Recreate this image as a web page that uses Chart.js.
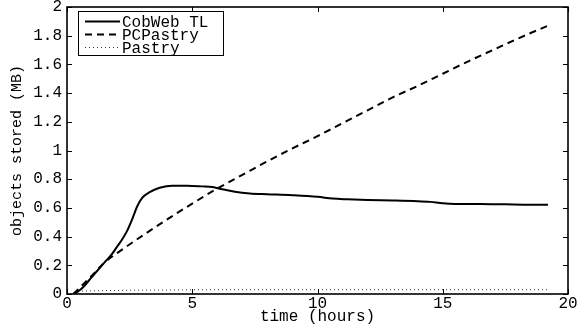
<!DOCTYPE html>
<html><head><meta charset="utf-8">
<script src="https://cdn.jsdelivr.net/npm/chart.js@4/dist/chart.umd.min.js"></script>
<style>html,body{margin:0;padding:0;background:#fff;overflow:hidden}#wrap{width:583px;height:328px}</style>
</head><body><div id="wrap"><canvas id="c" width="583" height="328"></canvas></div>
<script>
const seriesNames = ['CobWeb TL', 'PCPastry', 'Pastry'];
const cobwebHours = [0.3,0.6,1.0,1.5,1.8,2.0,2.2,2.4,2.6,2.8,3.0,3.3,3.7,4.2,4.8,5.4,5.8,6.2,6.7,7.3,8.0,9.0,10.0,10.6,11.2,12.0,13.0,14.0,14.5,15.0,15.5,16.5,17.5,18.5,19.2];
const cobwebMB    = [0,0.04,0.12,0.22,0.28,0.33,0.38,0.44,0.52,0.61,0.67,0.71,0.74,0.755,0.755,0.75,0.745,0.73,0.712,0.70,0.695,0.688,0.677,0.665,0.66,0.655,0.652,0.647,0.642,0.632,0.628,0.628,0.625,0.622,0.622];
const pcpastryHours = [0.25,0.6,1.0,1.5,2,3,4,5,6,7,8,9,10,11,12,13,14,15,16,17,18,19.2];
const pcpastryMB    = [0,0.06,0.13,0.22,0.285,0.405,0.52,0.63,0.735,0.83,0.925,1.015,1.10,1.19,1.28,1.37,1.45,1.535,1.62,1.70,1.78,1.87];
const pastryHours = [0.6,1,2,3,4,6,8,10,12,14,16,18,19.2];
const pastryMB    = [0.02,0.022,0.025,0.027,0.028,0.03,0.03,0.03,0.03,0.03,0.03,0.03,0.03];
const xTicks = [0,5,10,15,20];
const xTickLabels = ['0','5','10','15','20'];
const yTicks = [0,0.2,0.4,0.6,0.8,1,1.2,1.4,1.6,1.8,2];
const yTickLabels = ['0','0.2','0.4','0.6','0.8','1','1.2','1.4','1.6','1.8','2'];
const xTitle = 'time (hours)';
const yTitle = 'objects stored (MB)';

const FONT = 'Liberation Mono, Courier New, monospace';
const pts = (xs, ys) => xs.map((x, i) => ({x: x, y: ys[i]}));

const framePlugin = {
  id: 'frame',
  afterDraw(chart) {
    const ctx = chart.ctx, a = chart.chartArea;
    const xs = chart.scales.x, ys = chart.scales.y;
    ctx.save();
    ctx.strokeStyle = '#000';
    ctx.lineWidth = 1;
    ctx.beginPath();
    xTicks.forEach(v => {
      const p = Math.round(xs.getPixelForValue(v)) + 0.5;
      ctx.moveTo(p, a.bottom); ctx.lineTo(p, a.bottom - 5);
      ctx.moveTo(p, a.top); ctx.lineTo(p, a.top + 5);
    });
    yTicks.forEach(v => {
      const p = Math.round(ys.getPixelForValue(v)) + 0.5;
      ctx.moveTo(a.left, p); ctx.lineTo(a.left + 5, p);
      ctx.moveTo(a.right, p); ctx.lineTo(a.right - 5, p);
    });
    ctx.stroke();
    ctx.lineWidth = 1.6;
    ctx.strokeRect(a.left, a.top, a.right - a.left, a.bottom - a.top);
    // legend
    const lx = 78.5, ly = 11.5, lw = 145, lh = 44;
    ctx.fillStyle = '#fff';
    ctx.fillRect(lx, ly, lw, lh);
    ctx.lineWidth = 1;
    ctx.strokeRect(lx, ly, lw, lh);
    const rows = [21.5, 34.5, 47.5];
    chart.data.datasets.forEach((ds, i) => {
      ctx.save();
      ctx.strokeStyle = ds.borderColor;
      ctx.lineWidth = ds.borderWidth;
      ctx.setLineDash(ds.borderDash || []);
      ctx.beginPath();
      ctx.moveTo(85, rows[i]); ctx.lineTo(120, rows[i]);
      ctx.stroke();
      ctx.restore();
      ctx.fillStyle = '#000';
      ctx.font = '16px ' + FONT;
      ctx.textBaseline = 'middle';
      ctx.textAlign = 'left';
      ctx.fillText(seriesNames[i], 122, rows[i] + 1);
    });
    ctx.restore();
  }
};

new Chart(document.getElementById('c'), {
  type: 'line',
  data: {
    datasets: [
      {label: seriesNames[0], data: pts(cobwebHours, cobwebMB), borderColor: '#000', borderWidth: 2, pointRadius: 0, cubicInterpolationMode: 'monotone', fill: false},
      {label: seriesNames[1], data: pts(pcpastryHours, pcpastryMB), borderColor: '#000', borderWidth: 2, borderDash: [7, 5], pointRadius: 0, cubicInterpolationMode: 'monotone', fill: false},
      {label: seriesNames[2], data: pts(pastryHours, pastryMB), borderColor: '#333', borderWidth: 1, borderDash: [1, 3], pointRadius: 0, cubicInterpolationMode: 'monotone', fill: false}
    ]
  },
  options: {
    responsive: false,
    animation: false,
    devicePixelRatio: 1,
    layout: {padding: {top: 7, right: 15, left: 0, bottom: 0}},
    plugins: {legend: {display: false}, tooltip: {enabled: false}},
    scales: {
      x: {
        type: 'linear', min: 0, max: 20,
        afterBuildTicks: s => { s.ticks = xTicks.map(v => ({value: v})); },
        ticks: {callback: (v, i) => xTickLabels[i], color: '#000', font: {family: FONT, size: 16}, padding: 0, maxRotation: 0, autoSkip: false},
        grid: {display: false, drawTicks: false},
        border: {display: false},
        title: {display: true, text: xTitle, color: '#000', font: {family: FONT, size: 16}, padding: {top: 0, bottom: 2}},
        afterFit: s => { s.height = 34; s.paddingLeft = 0; s.paddingRight = 0; }
      },
      y: {
        type: 'linear', min: 0, max: 2,
        afterBuildTicks: s => { s.ticks = yTicks.map(v => ({value: v})); },
        ticks: {callback: (v, i) => yTickLabels[i], color: '#000', font: {family: FONT, size: 16}, padding: 5, autoSkip: false},
        grid: {display: false, drawTicks: false},
        border: {display: false},
        title: {display: true, text: yTitle, color: '#000', font: {family: FONT, size: 15}, padding: {top: 8, bottom: 0}},
        afterFit: s => { s.width = 67; s.paddingTop = 0; s.paddingBottom = 0; }
      }
    }
  },
  plugins: [framePlugin]
});
</script>
</body></html>
